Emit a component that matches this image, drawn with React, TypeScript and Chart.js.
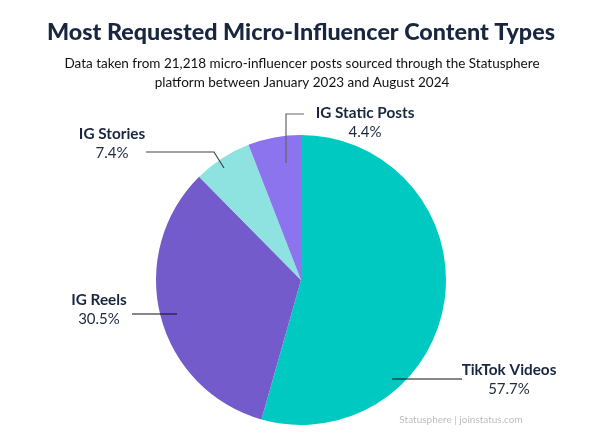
import React, { useEffect, useRef } from "react";
import { Chart, registerables } from "chart.js";
Chart.register(...registerables);

const categories = ["TikTok Videos", "IG Reels", "IG Stories", "IG Static Posts"];
const labelPercents = ["57.7%", "30.5%", "7.4%", "4.4%"];
// slice shares as drawn in the picture (degrees measured / 3.6)
const sliceValues = [54.4, 33.2, 6.5, 5.9];
const colors = ["#00C9C1", "#735BCB", "#8EE3E0", "#8B74EE"];

const titleText = "Most Requested Micro-Influencer Content Types";
const subtitleLines = [
  "Data taken from 21,218 micro-influencer posts sourced through the Statusphere",
  "platform between January 2023 and August 2024",
];
const footerText = "Statusphere | joinstatus.com";

// label layout relative to pie centre (dx, dy) and leader polylines
const labelLayout = [
  { tx: 208, ty: 90, pts: [[91, 99], [161, 99]], line: "#111" },
  { tx: -202, ty: 20, pts: [[-169, 34], [-124, 34]], line: "#111" },
  { tx: -189, ty: -146, pts: [[-155, -128], [-87, -128], [-77, -112]], line: "#444" },
  { tx: 64, ty: -167, pts: [[-15, -117], [-15, -166], [3, -166]], line: "#666" },
];

const FONT = "Lato, 'Open Sans', sans-serif";

const overlay = {
  id: "overlay",
  afterDraw(chart: any) {
    const ctx = chart.ctx as CanvasRenderingContext2D;
    const meta = chart.getDatasetMeta(0);
    const arc = meta.data[0] as any;
    const cx = arc.x, cy = arc.y;
    ctx.save();
    ctx.textAlign = "center";
    ctx.textBaseline = "middle";
    ctx.fillStyle = "#18263F";
    ctx.font = `900 23.3px ${FONT}`;
    ctx.fillText(titleText, 301, 32);
    ctx.fillStyle = "#111";
    ctx.font = `13.5px ${FONT}`;
    ctx.fillText(subtitleLines[0], 302, 64);
    ctx.fillText(subtitleLines[1], 302, 83);

    labelLayout.forEach((l, i) => {
      ctx.strokeStyle = l.line;
      ctx.lineWidth = 1.2;
      ctx.beginPath();
      l.pts.forEach((p, j) => {
        if (j === 0) ctx.moveTo(cx + p[0], cy + p[1]);
        else ctx.lineTo(cx + p[0], cy + p[1]);
      });
      ctx.stroke();
      ctx.fillStyle = "#18263F";
      ctx.font = `bold 15.3px ${FONT}`;
      ctx.fillText(categories[i], cx + l.tx, cy + l.ty);
      ctx.fillStyle = "#1f2a3d";
      ctx.font = `15px ${FONT}`;
      ctx.fillText(labelPercents[i], cx + l.tx, cy + l.ty + 19.5);
    });

    ctx.fillStyle = "#BDBDBD";
    ctx.font = `10px ${FONT}`;
    ctx.fillText(footerText, 461, 420);
    ctx.restore();
  },
};

export default function App() {
  const ref = useRef<HTMLCanvasElement>(null);
  useEffect(() => {
    const chart = new Chart(ref.current!, {
      type: "pie",
      data: {
        labels: categories,
        datasets: [
          {
            data: sliceValues,
            backgroundColor: colors,
            borderWidth: 0,
          },
        ],
      },
      options: {
        animation: false,
        responsive: false,
        layout: { padding: { top: 135, bottom: 17, left: 156, right: 159 } },
        plugins: { legend: { display: false }, tooltip: { enabled: false }, title: { display: false } },
      },
      plugins: [overlay],
    });
    return () => chart.destroy();
  }, []);
  return (
    <div style={{ position: "absolute", left: 0, top: 0, width: 605, height: 442, background: "#fff" }}>
      <canvas ref={ref} width={605} height={442} />
    </div>
  );
}
